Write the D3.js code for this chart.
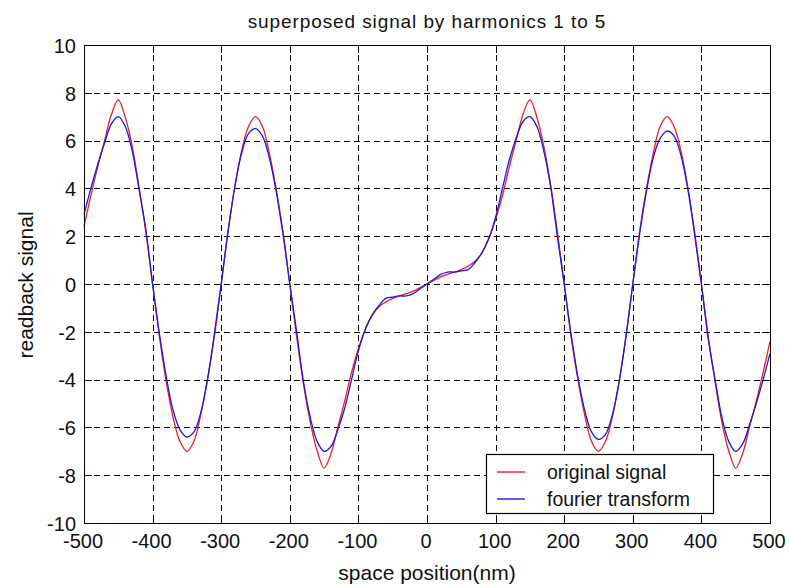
<!DOCTYPE html>
<html>
<head>
<meta charset="utf-8">
<script src="https://cdn.jsdelivr.net/npm/d3@7"></script>
<style>
  html, body { margin: 0; padding: 0; background: #ffffff; }
  svg { display: block; font-family: "Liberation Sans", Arial, sans-serif; }
</style>
</head>
<body>
<svg id="chart" width="789" height="588"></svg>
<script>
// ---- data ----
const positions = d3.range(-500, 501, 10); // space position (nm), 10 nm samples
const originalSignal = [
  2.4, 3.7, 4.9, 6.0, 7.1, 7.7, 7.0, 5.8, 4.1, 2.2,
  0.0, -2.2, -4.1, -5.6, -6.6, -7.0, -6.6, -5.5, -4.0, -2.2,
  0.0, 2.2, 4.1, 5.6, 6.6, 7.0, 6.6, 5.5, 4.0, 2.2,
  0.0, -2.2, -4.2, -5.8, -7.0, -7.7, -7.1, -6.0, -4.9, -3.7,
  -2.7, -1.9, -1.3, -0.95, -0.75, -0.6, -0.5, -0.4, -0.3, -0.15,
  0.0,
  0.15, 0.3, 0.4, 0.5, 0.6, 0.75, 0.95, 1.3, 1.9, 2.7,
  3.7, 4.9, 6.0, 7.1, 7.7, 7.0, 5.8, 4.2, 2.2, 0.0,
  -2.2, -4.0, -5.5, -6.6, -7.0, -6.6, -5.6, -4.1, -2.2, 0.0,
  2.2, 4.0, 5.5, 6.6, 7.0, 6.6, 5.6, 4.1, 2.2, 0.0,
  -2.2, -4.1, -5.8, -7.0, -7.7, -7.1, -6.0, -4.9, -3.7, -2.4
];
const fourierTransform = [
  2.9, 4.0, 5.0, 5.9, 6.7, 7.0, 6.6, 5.6, 4.0, 2.3,
  0.0, -2.1, -3.9, -5.3, -6.1, -6.4, -6.2, -5.4, -4.0, -2.1,
  0.0, 2.2, 4.1, 5.5, 6.3, 6.5, 6.2, 5.3, 3.9, 2.1,
  0.0, -2.0, -4.1, -5.6, -6.6, -7.0, -6.8, -6.1, -5.2, -4.0,
  -2.8, -1.9, -1.3, -0.9, -0.6, -0.55, -0.5, -0.5, -0.4, -0.2,
  0.0,
  0.2, 0.4, 0.5, 0.5, 0.55, 0.6, 0.9, 1.3, 1.9, 2.8,
  4.0, 5.2, 6.1, 6.8, 7.0, 6.6, 5.6, 4.1, 2.0, 0.0,
  -2.1, -3.9, -5.3, -6.2, -6.5, -6.3, -5.5, -4.1, -2.2, 0.0,
  2.1, 3.9, 5.3, 6.1, 6.4, 6.2, 5.4, 4.0, 2.1, 0.0,
  -2.3, -4.0, -5.6, -6.6, -7.0, -6.7, -5.9, -5.0, -4.0, -2.9
];
const xTicks = [-500, -400, -300, -200, -100, 0, 100, 200, 300, 400, 500];
const yTicks = [-10, -8, -6, -4, -2, 0, 2, 4, 6, 8, 10];
const seriesNames = ["original signal", "fourier transform"];
const seriesColors = ["#ee1c24", "#1a1ae0"];
const titleText = "superposed signal by harmonics 1 to 5";
const xLabel = "space position(nm)";
const yLabel = "readback signal";

// ---- layout ----
const L = 84, R = 770, T = 45, B = 523;
const svg = d3.select("#chart");
const x = d3.scaleLinear().domain([-500, 500]).range([L, R]);
const y = d3.scaleLinear().domain([-10, 10]).range([B, T]);
const fmt = d => String(d); // plain hyphen-minus like the reference

svg.append("rect").attr("width", 789).attr("height", 588).attr("fill", "#fff");

// grid
const grid = svg.append("g").attr("stroke", "#000").attr("stroke-width", 1)
  .attr("stroke-dasharray", "6,4").attr("shape-rendering", "crispEdges");
grid.selectAll("line.vx").data(xTicks.slice(1, -1)).join("line")
  .attr("x1", d => Math.round(x(d)) + 0.5).attr("x2", d => Math.round(x(d)) + 0.5)
  .attr("y1", T).attr("y2", B);
grid.selectAll("line.hy").data(yTicks.slice(1, -1)).join("line")
  .attr("class", "hy")
  .attr("y1", d => Math.round(y(d)) + 0.5).attr("y2", d => Math.round(y(d)) + 0.5)
  .attr("x1", L).attr("x2", R);

// axes (ticks inward, MATLAB style)
const tickLen = 8;
const axB = d3.axisBottom(x).tickValues(xTicks).tickSize(0).tickPadding(0).tickFormat(fmt);
const gB = svg.append("g").attr("transform", `translate(0,${B})`).call(axB);
gB.select(".domain").remove();
gB.selectAll("text").attr("font-size", 20).attr("fill", "#111")
  .attr("font-family", "'Liberation Sans', Arial, sans-serif")
  .attr("dy", null).attr("y", 25).attr("dx", -1.5);

const axL = d3.axisLeft(y).tickValues(yTicks).tickSize(0).tickPadding(0).tickFormat(fmt);
const gL = svg.append("g").attr("transform", `translate(${L},0)`).call(axL);
gL.select(".domain").remove();
gL.selectAll("text").attr("font-size", 20).attr("fill", "#111")
  .attr("font-family", "'Liberation Sans', Arial, sans-serif")
  .attr("x", -8).attr("dy", "0.36em");

// inward tick marks
const tk = svg.append("g").attr("stroke", "#000").attr("stroke-width", 1).attr("shape-rendering", "crispEdges");
xTicks.forEach(d => {
  const px = Math.round(x(d)) + 0.5;
  tk.append("line").attr("x1", px).attr("x2", px).attr("y1", B).attr("y2", B - tickLen);
  tk.append("line").attr("x1", px).attr("x2", px).attr("y1", T).attr("y2", T + tickLen);
});
yTicks.forEach(d => {
  const py = Math.round(y(d)) + 0.5;
  tk.append("line").attr("y1", py).attr("y2", py).attr("x1", L).attr("x2", L + tickLen);
  tk.append("line").attr("y1", py).attr("y2", py).attr("x1", R).attr("x2", R - tickLen);
});

// lines
const data = [originalSignal, fourierTransform].map(vals => positions.map((p, i) => ({ p, v: vals[i] })));
const line = d3.line().x(d => x(d.p)).y(d => y(d.v)).curve(d3.curveCatmullRom.alpha(0.5));
svg.append("g").selectAll("path").data(data).join("path")
  .attr("d", line).attr("fill", "none")
  .attr("stroke", (d, i) => seriesColors[i]).attr("stroke-width", 1.3);

// box
svg.append("rect").attr("x", L + 0.5).attr("y", T + 0.5).attr("width", R - L).attr("height", B - T)
  .attr("fill", "none").attr("stroke", "#000").attr("stroke-width", 1.2).attr("shape-rendering", "crispEdges");

// legend
const lg = svg.append("g");
lg.append("rect").attr("x", 486.5).attr("y", 454.5).attr("width", 227).attr("height", 59)
  .attr("fill", "#fff").attr("stroke", "#000").attr("stroke-width", 1.2);
seriesNames.forEach((n, i) => {
  const yy = 472 + i * 27;
  lg.append("line").attr("x1", 497).attr("x2", 525).attr("y1", yy).attr("y2", yy)
    .attr("stroke", seriesColors[i]).attr("stroke-width", 1.4);
  lg.append("text").attr("x", 547).attr("y", yy).attr("dy", "0.35em")
    .attr("font-size", 19.5).attr("fill", "#111").text(n);
});

// title & labels
svg.append("text").attr("x", 427).attr("y", 28).attr("text-anchor", "middle")
  .attr("font-size", 19).attr("letter-spacing", 0.9).attr("fill", "#111").text(titleText);
svg.append("text").attr("x", 427).attr("y", 580).attr("text-anchor", "middle")
  .attr("font-size", 21).attr("fill", "#111").text(xLabel);
svg.append("text").attr("transform", "translate(33,285) rotate(-90)").attr("text-anchor", "middle")
  .attr("font-size", 21).attr("fill", "#111").text(yLabel);
</script>
</body>
</html>
